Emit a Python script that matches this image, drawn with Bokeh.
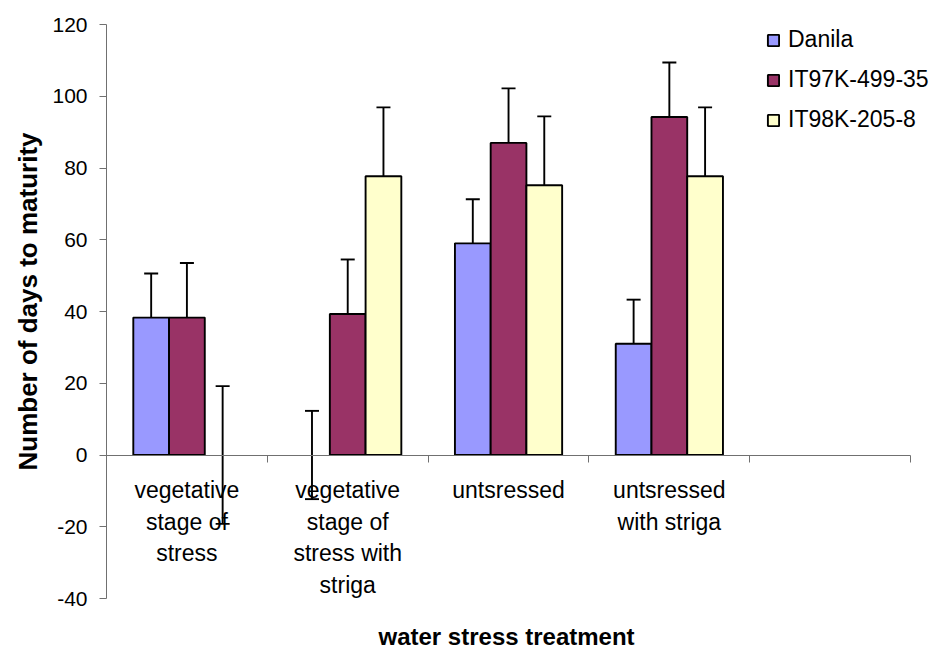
from bokeh.plotting import figure
from bokeh.models import (ColumnDataSource, Range1d, LinearAxis, FixedTicker, Title,
                          Whisker, TeeHead, Legend, LegendItem, CDSView, BooleanFilter)
from bokeh.core.properties import value
from bokeh.embed import file_html
from bokeh.resources import INLINE

# ---------------- data ----------------
categories = ["vegetative\nstage of\nstress",
              "vegetative\nstage of\nstress with\nstriga",
              "untsressed",
              "untsressed\nwith striga",
              ""]
series = ["Danila", "IT97K-499-35", "IT98K-205-8"]
danila = [38.3, 0.0, 59.0, 31.0]
it97 = [38.3, 39.3, 87.0, 94.2]
it98 = [0.0, 77.7, 75.2, 77.7]
danila_err = [12.3, 12.3, 12.3, 12.3]
it97_err = [15.2, 15.2, 15.2, 15.2]
it98_err = [19.2, 19.2, 19.2, 19.2]
y_ticks = [-40, -20, 0, 20, 40, 60, 80, 100, 120]
colors = ["#9999FF", "#993366", "#FFFFCC"]
x_title = "water stress treatment"
y_title = "Number of days to maturity"

FONT = "Liberation Sans"
GRAY = "#707070"

n = len(categories)
centers = [i + 0.5 for i in range(n)]
bar_w = 1 / 4.5

p = figure(width=935, height=650, x_range=Range1d(0, n + 0.155), y_range=Range1d(-40, 120),
           output_backend="svg", toolbar_location=None,
           min_border_left=106, min_border_right=0, min_border_top=24, min_border_bottom=52)
p.outline_line_color = None
p.background_fill_color = "white"
p.border_fill_color = "white"
p.xgrid.visible = False
p.ygrid.visible = False

# default x axis: empty spacer between the frame and the x title
xa = p.below[0]
xa.ticker = FixedTicker(ticks=[0])
xa.major_label_overrides = {0: ""}
xa.axis_line_color = None
xa.major_tick_line_color = None
xa.minor_tick_line_color = None
xa.major_tick_out = 22
xa.major_tick_in = 0
xa.major_label_standoff = 0

# Category axis at y = 0 with ticks between categories
bounds_ticks = list(range(n + 1))
zero_axis = LinearAxis(fixed_location=0, ticker=FixedTicker(ticks=bounds_ticks),
                       bounds=(0, n),
                       major_tick_out=7, major_tick_in=0,
                       major_label_overrides={t: "" for t in bounds_ticks},
                       axis_line_color=GRAY, major_tick_line_color=GRAY,
                       minor_tick_line_color=None)
p.add_layout(zero_axis, "below")

# x axis title
p.add_layout(Title(text=x_title, align="left", offset=272, standoff=0,
                   text_font=FONT, text_font_style="bold", text_font_size="24px",
                   text_color="black"), "below")

# Y axis
ya = p.yaxis[0]
ya.ticker = FixedTicker(ticks=y_ticks)
ya.major_label_overrides = {t: str(t) for t in y_ticks}
ya.axis_line_color = GRAY
ya.major_tick_line_color = GRAY
ya.minor_tick_line_color = None
ya.major_tick_out = 7
ya.major_tick_in = 0
ya.major_label_standoff = 12
ya.major_label_text_font = FONT
ya.major_label_text_font_size = "21px"
ya.major_label_text_color = "black"

# y axis title
p.add_layout(Title(text=y_title, align="left", offset=128, standoff=13,
                   text_font=FONT, text_font_style="bold", text_font_size="26px",
                   text_color="black"), "left")

# Category labels (under the error bars)
lab_idx = [i for i, c in enumerate(categories) if c]
p.text(x=[centers[i] for i in lab_idx], y=[0] * len(lab_idx),
       text=[categories[i] for i in lab_idx], y_offset=22,
       text_align="center", text_baseline="top",
       text_font=value(FONT), text_font_size="23px", text_line_height=1.22,
       text_color="black")

# Bars and error bars
items = []
all_vals = [danila, it97, it98]
all_errs = [danila_err, it97_err, it98_err]
for k, (name, vals, errs, col) in enumerate(zip(series, all_vals, all_errs, colors)):
    off = (k - 1) * bar_w
    xs = [c + off for c in centers[:len(vals)]]
    src = ColumnDataSource(dict(x=xs, top=vals,
                                upper=[v + e for v, e in zip(vals, errs)],
                                lower=[v - e for v, e in zip(vals, errs)]))
    view = CDSView(filter=BooleanFilter([v != 0 for v in vals]))
    r = p.vbar(x="x", top="top", bottom=0, width=bar_w, source=src, view=view,
               fill_color=col, line_color="black", line_width=1.9)
    items.append(LegendItem(label=name, renderers=[r]))
    w = Whisker(base="x", upper="upper", lower="lower", source=src,
                line_color="black", line_width=1.9,
                upper_head=TeeHead(size=14, line_color="black", line_width=1.9),
                lower_head=TeeHead(size=14, line_color="black", line_width=1.9))
    p.add_layout(w)

legend = Legend(items=items, location=(660, 465), padding=0, margin=0,
                spacing=13, label_height=23, glyph_width=14, glyph_height=14,
                label_standoff=8, label_text_font=FONT, label_text_font_size="23px",
                label_text_color="black", border_line_color=None,
                background_fill_alpha=0)
p.add_layout(legend, "center")

open("out.html", "w").write(file_html(p, INLINE))
